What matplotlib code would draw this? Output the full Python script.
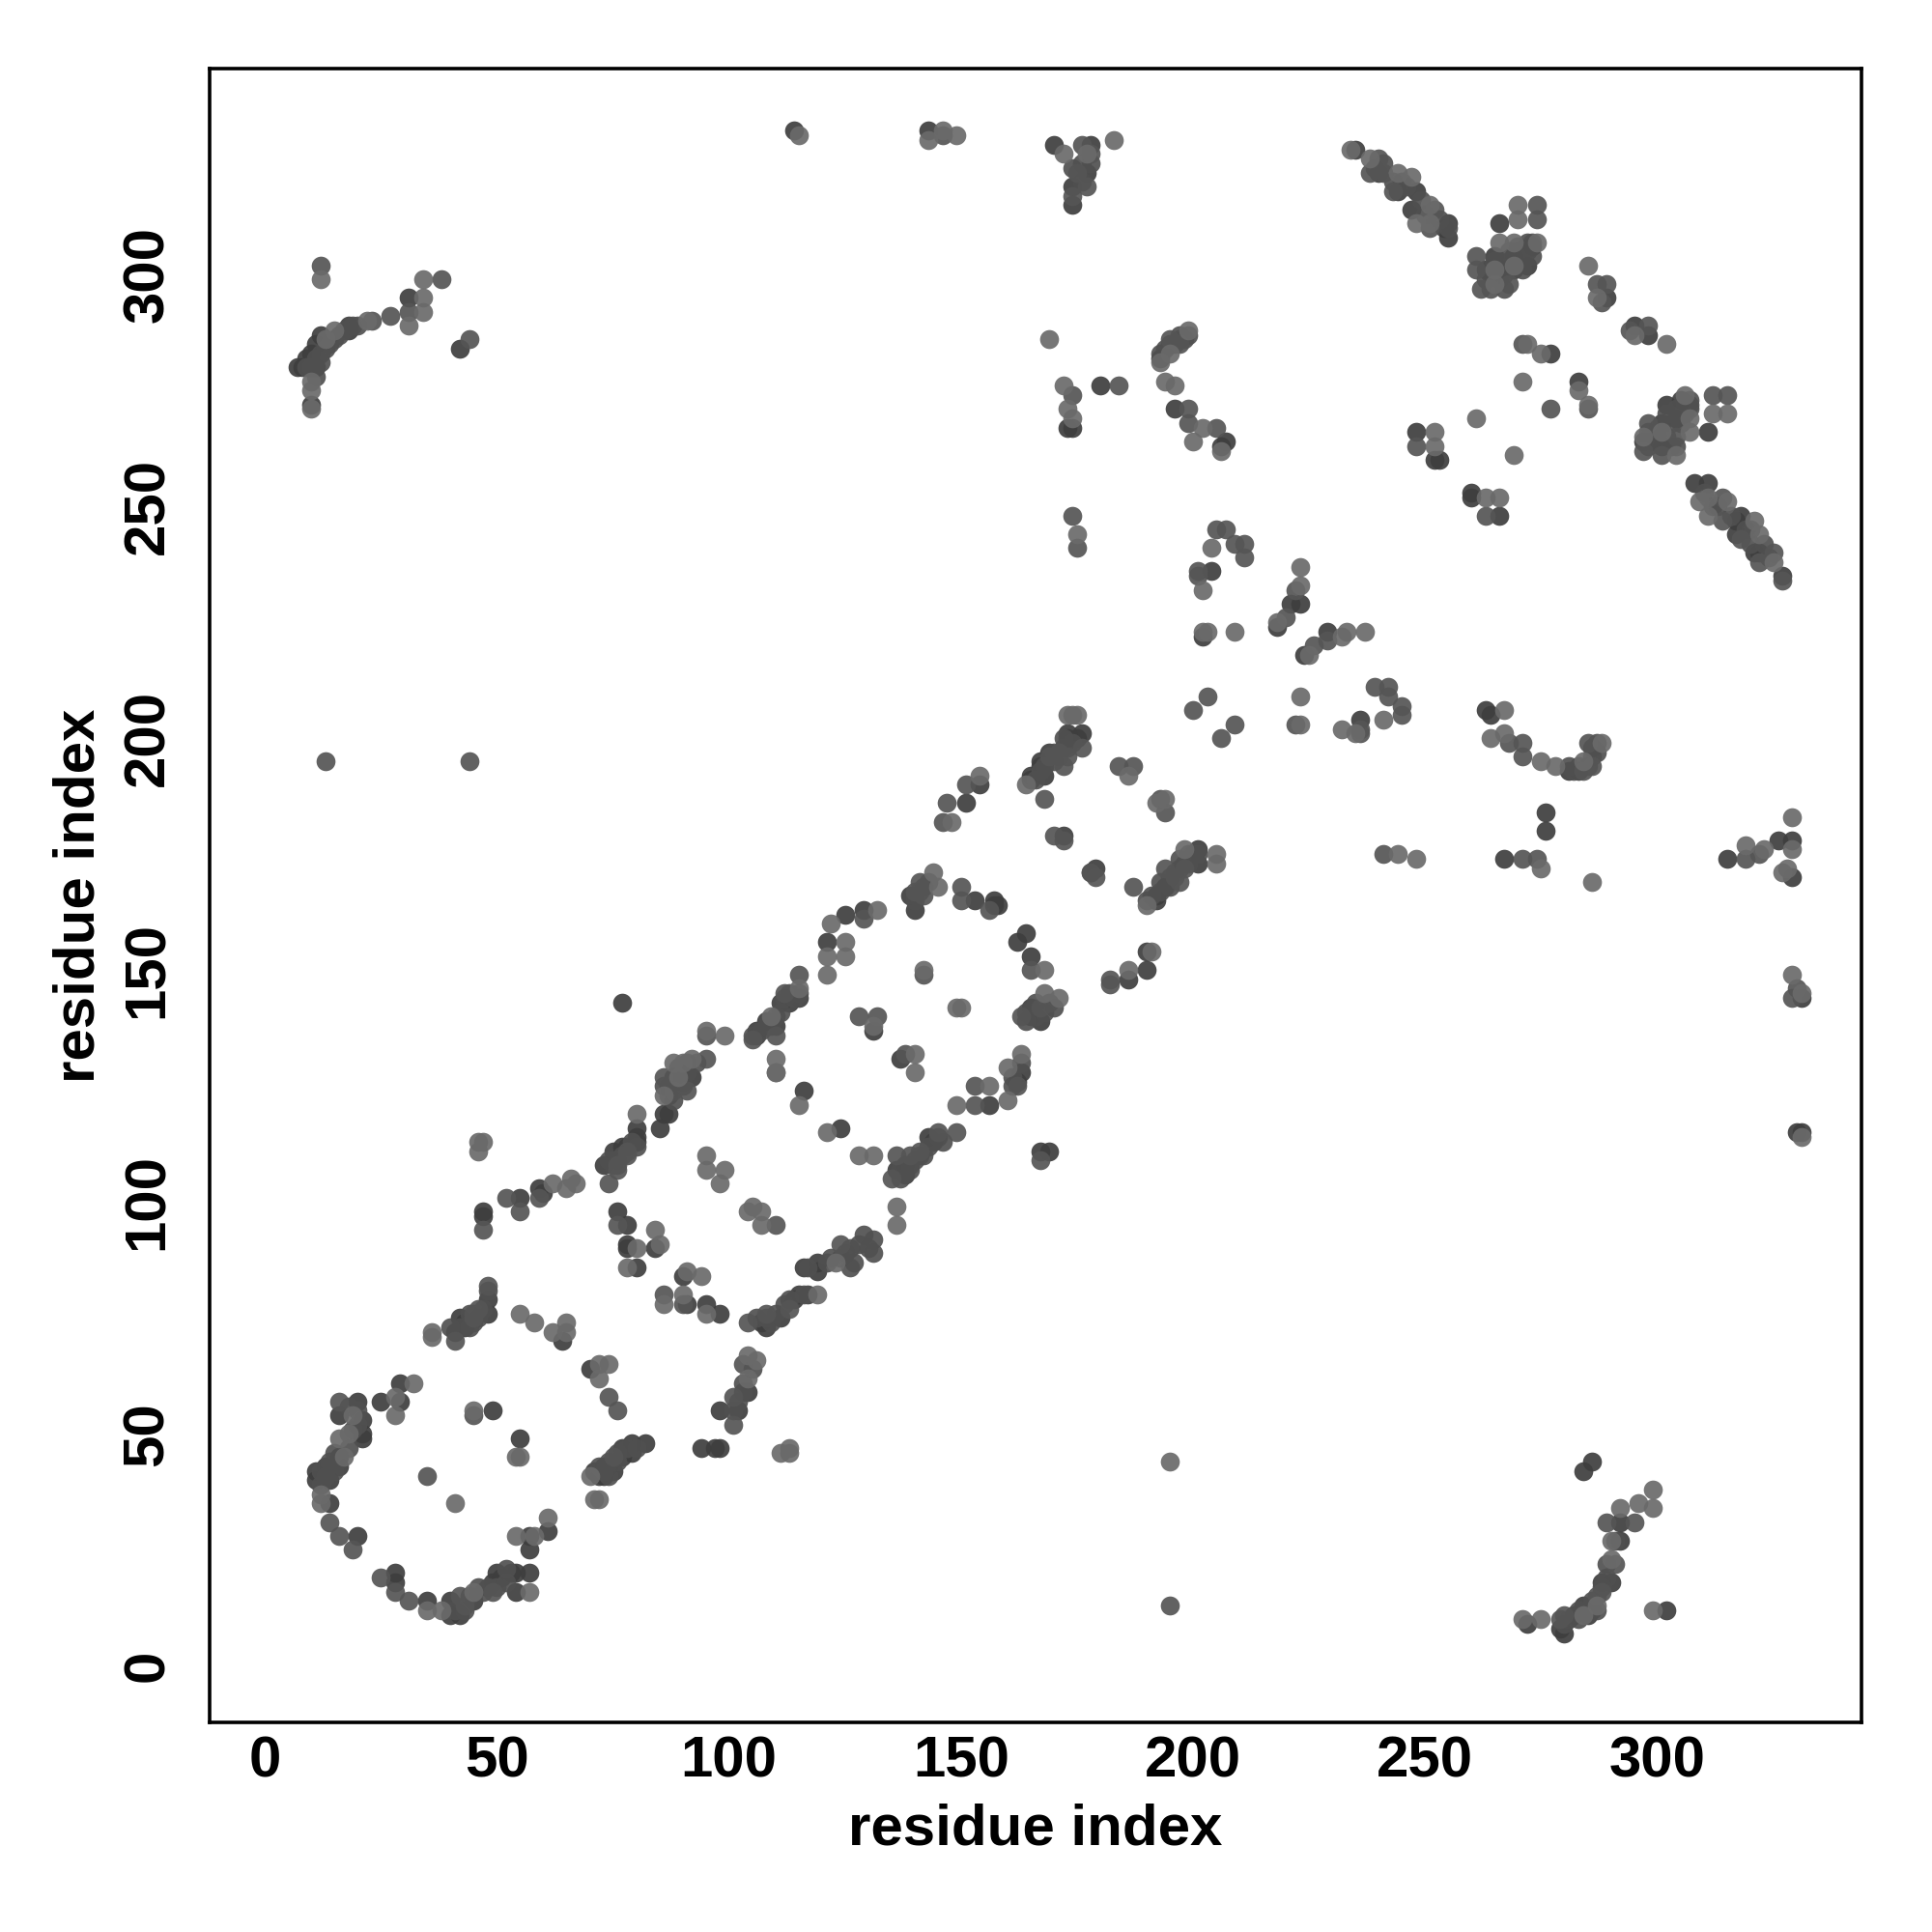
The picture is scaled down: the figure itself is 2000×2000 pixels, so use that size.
import matplotlib
matplotlib.use("Agg")
import matplotlib.pyplot as plt

plt.rcParams['font.family'] = ['Liberation Sans', 'DejaVu Sans']

# contacts as (residue i, residue j), split by how dark the dot looks
light = [(16,49),(18,50),(19,54),(17,45),(12,37),(12,35),(41,35),(32,61),(28,58),(28,54),(45,55),(54,45),(55,45),
    (58,28),(54,28),(61,32),(35,12),(38,12),(45,16),(57,16),(70,41),(71,36),(72,36),(94,84),(91,85),(90,80),(95,76),
    (111,46),(113,46),(113,47),(104,62),(104,67),(106,66),(36,71),(36,72),(55,76),(58,74),(62,72),(65,74),(65,72),
    (72,65),(74,65),(72,62),(46,111),(47,113),(46,113),(62,104),(65,103),(66,105),(67,104),(80,119),(84,94),(85,91),
    (78,86),(86,78),(80,90),(119,80),(123,87),(95,110),(95,107),(99,107),(98,104),(104,98),(105,99),(107,98),(107,95),
    (115,121),(121,115),(110,128),(115,146),(109,140),(95,137),(99,136),(110,131),(110,128),(92,131),(88,130),(90,130),
    (89,127),(86,123),(128,110),(131,110),(136,99),(136,95),(149,121),(156,125),(160,122),(160,129),(163,132),(131,138),
    (140,132),(140,128),(142,150),(149,142),(150,142),(144,171),(145,168),(132,163),(122,160),(125,156),(125,153),
    (121,153),(121,149),(168,150),(168,145),(171,144),(154,192),(148,182),(164,190),(186,192),(191,154),(186,150),
    (175,244),(204,241),(202,232),(202,223),(203,223),(209,223),(223,237),(223,233),(218,225),(225,218),(232,222),
    (233,223),(237,223),(223,209),(223,203),(232,202),(235,201),(241,204),(244,175),(248,174),(174,205),(173,205),
    (175,205),(192,186),(194,187),(190,164),(198,176),(205,175),(205,173),(234,327),(238,325),(244,322),(247,321),
    (251,315),(248,311),(251,311),(270,315),(270,312),(266,307),(269,307),(274,307),(265,301),(265,298),(269,302),
    (285,302),(287,295),(302,285),(295,287),(272,285),(275,283),(271,277),(283,275),(285,272),(261,269),(269,261),
    (252,266),(252,263),(263,252),(266,252),(306,274),(312,270),(315,270),(307,269),(307,266),(301,266),(297,265),
    (304,261),(309,251),(311,252),(311,248),(315,251),(321,247),(322,244),(325,238),(12,299),(34,299),(34,295),
    (34,292),(31,289),(22,290),(15,288),(13,286),(10,277),(10,275),(10,271),(115,330),(146,331),(149,330),(143,329),
    (172,326),(183,329),(177,326),(169,286),(172,276),(173,271),(174,269),(199,288),(195,283),(193,281),(194,277),
    (196,276),(200,264),(202,267),(206,262),(267,206),(264,200),(267,201),(275,195),(278,194),(284,195),(288,199),
    (275,172),(286,169),(319,177),(323,176),(329,183),(329,176),(327,171),(328,172),(329,149),(331,145),(331,114),
    (195,44),(299,38),(296,35),(292,34),(299,34),(290,27),(290,23),(287,13),(299,12),(271,10),(275,10),(284,11)]

medium = [(16,57),(14,31),(16,28),(19,25),(25,19),(28,16),(31,14),(42,15),(43,13),(49,16),(45,54),(35,41),(101,52),
    (101,58),(103,65),(41,70),(45,75),(45,76),(46,77),(48,82),(75,45),(76,95),(74,58),(76,55),(90,78),(86,80),(104,74),
    (108,76),(113,77),(124,91),(110,95),(47,94),(52,101),(55,98),(59,101),(74,104),(76,108),(78,111),(115,149),
    (112,145),(105,135),(110,136),(95,136),(95,131),(86,127),(91,124),(88,124),(78,110),(76,107),(149,115),(145,115),
    (141,111),(139,110),(136,110),(135,105),(153,121),(153,125),(162,125),(128,140),(132,140),(138,132),(142,149),
    (150,168),(150,165),(156,163),(141,169),(142,166),(140,167),(129,161),(165,150),(163,140),(169,143),(167,142),
    (168,187),(170,179),(167,109),(179,170),(178,171),(187,168),(151,190),(147,186),(146,182),(171,197),(176,198),
    (184,194),(187,194),(182,147),(182,148),(174,248),(175,241),(205,245),(207,245),(209,242),(211,242),(211,239),
    (201,236),(201,235),(222,232),(220,226),(226,220),(229,221),(203,209),(200,206),(209,203),(206,200),(222,203),
    (236,202),(236,201),(239,211),(242,211),(242,209),(245,207),(245,205),(241,175),(172,194),(173,196),(169,196),
    (193,187),(194,184),(172,178),(194,172),(196,170),(198,172),(197,169),(240,325),(238,322),(241,322),(243,318),
    (252,314),(251,310),(274,315),(274,312),(261,304),(261,301),(268,298),(262,297),(264,297),(287,298),(289,298),
    (288,294),(294,288),(298,289),(271,285),(285,271),(277,271),(248,263),(263,248),(312,274),(315,274),(298,268),
    (304,265),(297,262),(301,261),(314,252),(314,247),(318,243),(325,240),(322,238),(327,234),(12,302),(38,299),
    (31,292),(27,291),(23,290),(44,286),(13,195),(44,195),(146,330),(176,328),(178,326),(175,322),(177,319),(174,317),
    (184,276),(174,274),(195,286),(197,285),(199,271),(199,268),(205,267),(268,199),(271,199),(271,196),(286,194),
    (285,199),(284,193),(271,174),(274,174),(319,174),(322,175),(330,146),(329,144),(195,13),(289,31),(295,31),
    (291,22),(287,15),(288,16),(279,10),(280,11)]

dark = [(20,57),(16,54),(21,53),(21,50),(21,49),(16,45),(16,43),(13,43),(11,42),(14,40),(11,40),(14,35),(20,28),(28,20),
    (28,18),(35,14),(40,14),(40,11),(42,11),(45,14),(50,20),(49,18),(51,19),(53,20),(54,20),(54,16),(57,20),(57,25),
    (57,28),(61,29),(29,61),(25,57),(29,57),(49,55),(55,49),(72,41),(73,41),(71,42),(75,42),(73,43),(77,45),(77,47),
    (79,46),(79,48),(82,48),(74,43),(94,47),(97,47),(98,47),(98,55),(102,55),(104,59),(41,72),(42,75),(43,73),(48,79),
    (48,76),(43,74),(64,70),(70,64),(47,98),(47,97),(55,101),(59,103),(60,102),(73,108),(75,111),(77,112),(80,114),
    (80,116),(76,98),(78,95),(78,91),(78,90),(84,90),(80,86),(90,84),(91,78),(95,78),(98,76),(107,74),(108,73),(111,75),
    (114,79),(115,80),(117,80),(116,86),(119,87),(119,85),(116,124),(124,116),(77,143),(115,144),(113,143),(111,143),
    (110,138),(108,139),(106,137),(106,136),(92,127),(88,127),(87,119),(86,119),(85,116),(80,113),(78,112),(143,114),
    (144,113),(138,108),(136,107),(138,106),(156,121),(163,128),(162,126),(131,137),(137,131),(153,165),(157,164),
    (157,165),(158,164),(139,166),(140,163),(129,163),(125,162),(121,156),(162,156),(164,158),(165,153),(165,140),
    (167,139),(165,142),(172,179),(178,171),(167,111),(169,111),(154,190),(151,186),(165,192),(167,194),(173,200),
    (176,201),(186,148),(190,150),(190,154),(204,236),(202,222),(223,229),(221,229),(218,224),(224,218),(229,223),
    (236,204),(173,201),(165,191),(167,195),(169,197),(168,192),(175,200),(179,172),(192,166),(192,165),(194,168),
    (201,176),(201,173),(235,327),(240,322),(244,318),(248,318),(247,314),(255,311),(255,308),(254,310),(266,311),
    (273,306),(269,304),(265,304),(272,302),(269,301),(263,301),(267,301),(289,295),(295,289),(298,287),(277,283),
    (283,277),(248,266),(252,260),(253,260),(260,253),(260,252),(266,248),(305,273),(302,272),(311,266),(304,269),
    (301,268),(297,264),(301,263),(308,255),(311,255),(317,247),(318,248),(317,244),(321,240),(322,240),(327,235),
    (31,295),(18,289),(18,288),(12,287),(11,285),(10,283),(9,282),(7,280),(8,280),(11,280),(10,272),(42,284),(114,331),
    (143,331),(170,328),(178,328),(177,322),(174,319),(174,315),(180,276),(173,267),(174,267),(193,282),(196,271),
    (206,263),(207,264),(263,206),(264,205),(281,193),(283,193),(286,198),(276,184),(276,180),(267,174),(315,174),
    (326,178),(329,178),(329,170),(331,144),(331,115),(330,115),(284,42),(286,44),(292,31),(292,27),(288,18),(290,18),
    (284,13),(282,11),(285,11),(302,12),(272,9),(279,8),(280,7)]

# extra contacts inside the dense helix/strand clumps, where dots pile up
packed = [(13,284),(14,285),(15,286),(16,287),(17,288),(19,289),(20,289),(12,283),(11,282),(10,280),(9,280),(12,281),(11,278),
    (18,47),(15,46),(14,44),(12,42),(13,41),(15,42),(12,39),(19,51),(20,52),(20,55),(18,56),
    (43,12),(41,12),(44,15),(46,17),(47,16),(48,17),(50,17),(52,18),(52,21),
    (44,73),(45,74),(46,75),(47,77),(44,76),(42,73),(40,73),(48,81),
    (73,42),(74,44),(76,44),(76,46),(78,47),(80,47),(74,41),(72,43),
    (101,55),(102,57),(103,59),(105,64),(103,61),
    (108,75),(109,74),(110,76),(112,78),(113,79),(116,80),(106,75),
    (117,86),(122,88),(124,88),(125,89),(126,90),(128,91),(129,93),(130,90),(127,87),(121,87),(126,86),(131,89),(131,92),
    (76,109),(77,110),(79,113),(80,112),(74,109),(75,108),
    (105,136),(107,137),(109,138),(110,140),(111,141),(112,144),(113,145),(114,144),(115,145),(108,138),
    (87,125),(88,126),(90,126),(91,128),(89,129),(93,130),(87,123),(88,122),(90,125),(91,130),(86,125),
    (137,107),(139,108),(140,109),(142,110),(143,112),(145,114),(146,113),(141,110),(137,105),(139,107),
    (164,139),(166,140),(168,141),(170,142),(164,141),(166,143),(161,125),(163,130),(161,127),
    (140,165),(141,167),(142,168),(143,169),(140,166),
    (166,191),(167,193),(168,194),(170,195),(171,196),(172,198),(173,198),(170,197),(174,199),(172,200),
    (190,165),(191,166),(193,167),(193,169),(195,170),(196,171),(197,172),(198,173),(199,173),(199,175),(200,175),(197,174),(201,175),(195,168),
    (281,194),(282,193),(283,194),(285,194),(286,196),(287,197),(287,199),
    (246,319),(245,320),(249,316),(253,312),(255,310),(239,323),(241,324),(243,320),(250,313),
    (263,299),(264,300),(266,302),(268,303),(270,305),(271,303),(272,305),(273,304),(267,300),(266,299),(265,303),(268,305),(270,302),(271,301),(267,297),(272,307),(273,307),(270,306),
    (298,266),(299,265),(300,267),(302,270),(303,268),(304,271),(305,268),(306,270),(307,272),(298,263),(299,264),(303,263),(302,265),(300,265),(304,263),(307,273),(305,270),(307,271),
    (286,12),(283,12),(281,10),(286,14),(288,17),(289,19),(283,10),(287,12),(280,9),(291,27),(289,22),
    (193,283),(194,284),(195,285),(196,285),(197,286),(198,286),(197,287),(199,287),
    (313,250),(316,248),(319,245),(320,245),(320,242),(323,242),(324,239),(312,250),(310,253),
    (174,323),(176,320),(176,324),(178,324)]

x_ticks = [0, 50, 100, 150, 200, 250, 300]
y_ticks = [0, 50, 100, 150, 200, 250, 300]

fig = plt.figure(figsize=(10, 10), dpi=200)
ax = fig.add_axes([217/2000, 1 - 1783/2000, 1710/2000, 1712/2000])

for pts, col in [(dark, '#3e3e3e'), (packed, '#505050'), (medium, '#555555'), (light, '#6a6a6a')]:
    xs = [p[0] for p in pts]
    ys = [p[1] for p in pts]
    ax.scatter(xs, ys, s=50, c=col, alpha=0.92, linewidths=0)

ax.set_xlim(-11.9, 344)
ax.set_ylim(-12.2, 344.4)
ax.set_xticks(x_ticks)
ax.set_yticks(y_ticks)
ax.tick_params(axis='x', length=0, labelsize=21.6, pad=4.7)
ax.tick_params(axis='y', length=0, labelsize=21.6, pad=13)
for t in ax.get_xticklabels():
    t.set_fontweight('bold')
for t in ax.get_yticklabels():
    t.set_fontweight('bold')
    t.set_rotation(90)
    t.set_va('center')
ax.set_xlabel('residue index', fontsize=21.6, fontweight='bold', labelpad=5.6)
ax.set_ylabel('residue index', fontsize=21.6, fontweight='bold', labelpad=6)
for s in ax.spines.values():
    s.set_linewidth(1.3)

fig.savefig('out.png', dpi=200)
